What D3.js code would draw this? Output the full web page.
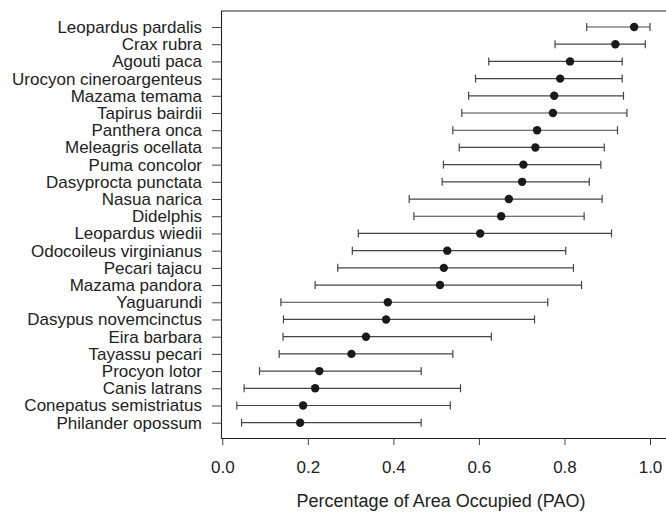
<!DOCTYPE html>
<html lang="en">
<head>
    <meta charset="UTF-8">
    <title>Percentage of Area Occupied</title>
    <script src="https://d3js.org/d3.v7.min.js"></script>
    <style>
        body { margin: 0; background: #fff; }
        svg { display: block; font-family: "Liberation Sans", Arial, sans-serif; }
    </style>
</head>
<body>
    <div id="chart"></div>

    <script>
        // species, top to bottom
        const species = [
            "Leopardus pardalis", "Crax rubra", "Agouti paca", "Urocyon cineroargenteus",
            "Mazama temama", "Tapirus bairdii", "Panthera onca", "Meleagris ocellata",
            "Puma concolor", "Dasyprocta punctata", "Nasua narica", "Didelphis",
            "Leopardus wiedii", "Odocoileus virginianus", "Pecari tajacu", "Mazama pandora",
            "Yaguarundi", "Dasypus novemcinctus", "Eira barbara", "Tayassu pecari",
            "Procyon lotor", "Canis latrans", "Conepatus semistriatus", "Philander opossum"
        ];
        const pao = [0.963, 0.919, 0.813, 0.790, 0.776, 0.773, 0.736, 0.732, 0.704, 0.701, 0.670, 0.652,
                     0.603, 0.526, 0.518, 0.509, 0.387, 0.383, 0.336, 0.302, 0.227, 0.217, 0.189, 0.182];
        const lower = [0.852, 0.778, 0.623, 0.592, 0.576, 0.560, 0.539, 0.554, 0.517, 0.514, 0.437, 0.448,
                       0.318, 0.304, 0.270, 0.217, 0.137, 0.143, 0.142, 0.133, 0.087, 0.051, 0.034, 0.045];
        const upper = [1.000, 0.989, 0.935, 0.935, 0.938, 0.946, 0.924, 0.893, 0.885, 0.858, 0.888, 0.846,
                       0.910, 0.803, 0.821, 0.840, 0.761, 0.730, 0.629, 0.539, 0.465, 0.557, 0.533, 0.465];
        const xTicks = [0, 0.2, 0.4, 0.6, 0.8, 1.0];

        const width = 666, height = 514;
        const box = { left: 221.5, top: 11, bottom: 438.5 };
        const font = "'Liberation Sans', Arial, sans-serif";

        const svg = d3.select("#chart")
            .append("svg")
            .attr("width", width)
            .attr("height", height);

        const x = d3.scaleLinear().domain([0, 1]).range([222.3, 650]);
        const y = d3.scalePoint().domain(species).range([27, 422.7]);

        const rows = species.map((s, i) => ({ name: s, est: pao[i], lo: lower[i], hi: upper[i] }));

        // plot frame (right side runs off the image)
        svg.append("path")
            .attr("d", `M${width + 5},${box.top}H${box.left}V${box.bottom}H${width + 5}`)
            .attr("fill", "none")
            .attr("stroke", "#222")
            .attr("stroke-width", 1.1);

        // y axis ticks + labels
        const yAxis = svg.append("g")
            .attr("transform", `translate(${box.left},0)`)
            .call(d3.axisLeft(y).tickSize(9.5).tickPadding(10));
        yAxis.select(".domain").remove();
        yAxis.selectAll("line").attr("stroke", "#444");
        yAxis.selectAll("text")
            .attr("font-size", "17px")
            .attr("fill", "#222")
            .attr("font-family", font);

        // x axis
        const xAxis = svg.append("g")
            .attr("transform", `translate(0,${box.bottom})`)
            .call(d3.axisBottom(x).tickValues(xTicks).tickFormat(d3.format(".1f")).tickSize(6.5).tickPadding(15.5));
        xAxis.select(".domain").remove();
        xAxis.selectAll("line").attr("stroke", "#444");
        xAxis.selectAll("text")
            .attr("font-size", "17px")
            .attr("fill", "#222")
            .attr("font-family", font);

        svg.append("text")
            .attr("x", 441)
            .attr("y", 507)
            .attr("text-anchor", "middle")
            .attr("font-size", "18px")
            .attr("fill", "#222")
            .attr("font-family", font)
            .text("Percentage of Area Occupied (PAO)");

        // error bars
        const bars = svg.append("g").selectAll("g")
            .data(rows)
            .join("g")
            .attr("stroke", "#444")
            .attr("stroke-width", 1.2);

        bars.append("line")
            .attr("x1", d => x(d.lo)).attr("x2", d => x(d.hi))
            .attr("y1", d => y(d.name)).attr("y2", d => y(d.name));
        bars.append("line")
            .attr("x1", d => x(d.lo)).attr("x2", d => x(d.lo))
            .attr("y1", d => y(d.name) - 4).attr("y2", d => y(d.name) + 4);
        bars.append("line")
            .attr("x1", d => x(d.hi)).attr("x2", d => x(d.hi))
            .attr("y1", d => y(d.name) - 4).attr("y2", d => y(d.name) + 4);

        svg.append("g").selectAll("circle")
            .data(rows)
            .join("circle")
            .attr("cx", d => x(d.est))
            .attr("cy", d => y(d.name))
            .attr("r", 4.2)
            .attr("fill", "#1a1a1a");
    </script>
</body>
</html>
